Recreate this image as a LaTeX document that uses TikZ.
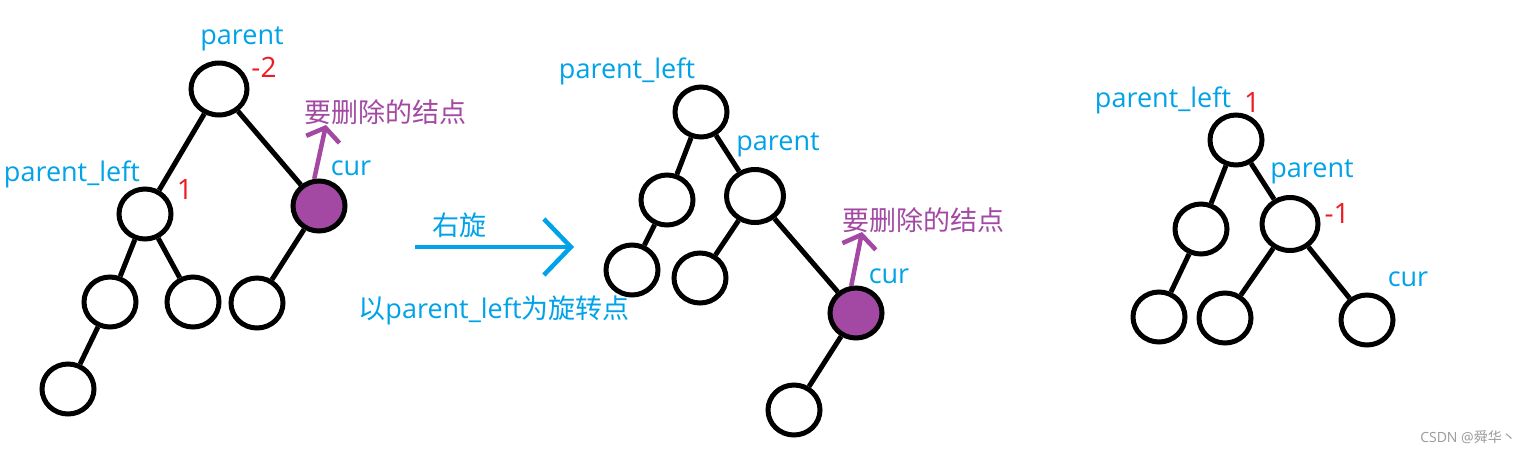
\documentclass[tikz,border=0pt]{standalone}
\usepackage{fontspec}
\setmainfont{Open Sans}
\newfontfamily\cjk{Noto Sans CJK SC}
\usetikzlibrary{arrows.meta, shapes.geometric}
\definecolor{cblue}{HTML}{00A2E8}
\definecolor{cred}{HTML}{ED1C24}
\definecolor{cpurple}{HTML}{A349A4}
\definecolor{cgrey}{HTML}{9A9A9A}
\tikzset{
  every picture/.style={line width=5pt},
  tnode/.style={ellipse, draw=black, fill=white, line width=5pt, inner sep=0pt, minimum width=52pt, minimum height=50pt},
  hit/.style={tnode, fill=cpurple},
  edge/.style={draw=black, line width=5pt},
  lbl/.style={text=cblue, inner sep=0pt, font=\fontsize{27}{32}\selectfont},
  num/.style={text=cred, inner sep=0pt, font=\fontsize{28}{32}\selectfont},
  del/.style={text=cpurple, inner sep=0pt, font=\cjk\fontsize{27}{32}\selectfont},
  wm/.style={text=cgrey, inner sep=0pt, font=\fontsize{14}{16}\selectfont},
  hitarrow/.style={-{Straight Barb[length=12pt,width=34pt]}, draw=cpurple, line width=4.5pt},
  turn/.style={-{Straight Barb[length=27pt,width=56pt]}, draw=cblue, line width=4.5pt},
}
\begin{document}
\begin{tikzpicture}[x=1pt, y=-1pt]
  \fill[white] (0,0) rectangle (1530,453);
  \useasboundingbox (0,0) rectangle (1530,453);
  % before: parent is -2
  \node[tnode, minimum width=56pt, minimum height=52pt] (p1) at (219,89) {};
  \node[tnode] (pl1) at (145,214) {};
  \node[hit] (cur1) at (319,206) {};
  \node[tnode] (a1) at (110,302) {};
  \node[tnode] (b1) at (193,302) {};
  \node[tnode] (c1) at (257,303) {};
  \node[tnode] (d1) at (68,389) {};
  \foreach \u/\v in {p1/pl1, p1/cur1, pl1/a1, pl1/b1, cur1/c1, a1/d1} \draw[edge] (\u) -- (\v);
  \node[lbl] (t-p1) at (242,39) {parent};
  \node[num] (n-p1) at (264,67) {-2};
  \node[lbl] (t-pl1) at (72,174) {parent\_left};
  \node[num] (n-pl1) at (185,190) {1};
  \node[lbl] (t-cur1) at (351,168) {cur};
  \node[del] (del1) at (385,112) {要删除的结点};
  \coordinate (tip1) at (326,125);
  \draw[hitarrow] (cur1.100) -- (tip1);
  % rotation
  \coordinate (rs) at (415,247);
  \coordinate (re) at (574,247);
  \draw[turn] (rs) -- (re);
  \node[lbl] (t-rot) at (459,225) {\cjk 右旋};
  \node[lbl] (t-pivot) at (494,310) {{\cjk 以}parent\_left{\cjk 为旋转点}};
  % after the right rotation
  \node[tnode] (pl2) at (701,112) {};
  \node[tnode, minimum width=57pt, minimum height=53pt] (p2) at (755,196) {};
  \node[tnode] (a2) at (667,200) {};
  \node[tnode] (b2) at (632,270) {};
  \node[tnode] (c2) at (700,278) {};
  \node[hit] (cur2) at (856,313) {};
  \node[tnode] (d2) at (794,410) {};
  \foreach \u/\v in {pl2/a2, pl2/p2, a2/b2, p2/c2, p2/cur2, cur2/d2} \draw[edge] (\u) -- (\v);
  \node[lbl] (t-pl2) at (627,71) {parent\_left};
  \node[lbl] (t-p2) at (778,145) {parent};
  \node[lbl] (t-cur2) at (889,276) {cur};
  \node[del] (del2) at (923,220) {要删除的结点};
  \coordinate (tip2) at (862,232);
  \draw[hitarrow] (cur2.100) -- (tip2);
  % after deleting
  \node[tnode] (pl3) at (1236,140) {};
  \node[tnode] (a3) at (1201,229) {};
  \node[tnode, minimum width=56pt, minimum height=53pt] (p3) at (1290,224) {};
  \node[tnode] (b3) at (1159,317) {};
  \node[tnode] (c3) at (1225,318) {};
  \node[tnode] (cur3) at (1367,320) {};
  \foreach \u/\v in {pl3/a3, pl3/p3, a3/b3, p3/c3, p3/cur3} \draw[edge] (\u) -- (\v);
  \node[lbl] (t-pl3) at (1163,100) {parent\_left};
  \node[num] (n-pl3) at (1252,103) {1};
  \node[lbl] (t-p3) at (1312,172) {parent};
  \node[num] (n-p3) at (1337,214) {-1};
  \node[lbl] (t-cur3) at (1408,279) {cur};
  \node[wm] (wm) at (1468,437) {CSDN @{\cjk 舜华丶}};
\end{tikzpicture}
\end{document}
